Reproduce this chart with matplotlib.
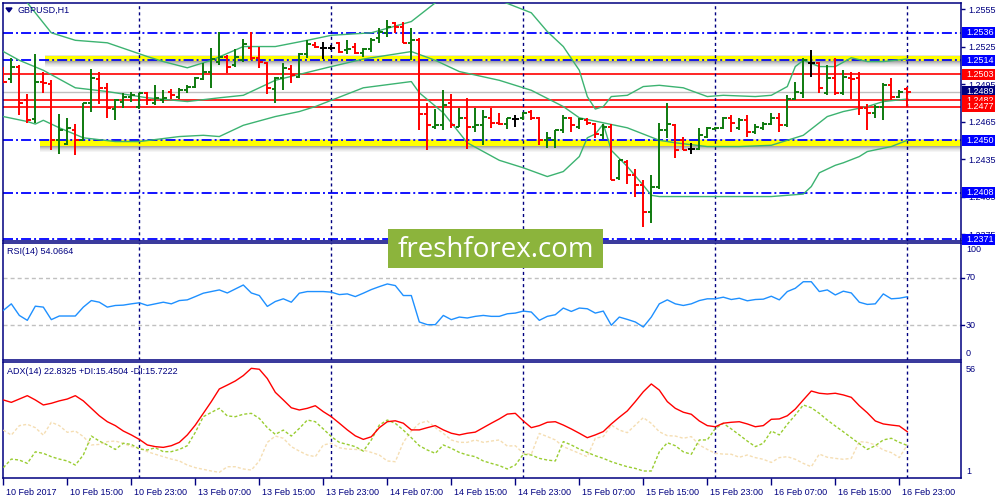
import matplotlib
import matplotlib.pyplot as plt
import matplotlib.transforms as mtransforms
from matplotlib.collections import LineCollection
from matplotlib.patches import Rectangle, Polygon

plt.rcParams['font.family'] = ['Liberation Sans', 'DejaVu Sans']
plt.rcParams['lines.scale_dashes'] = False

# GBPUSD H1, bar 0 = 10 Feb 2017 07:00 (one bar per hour, weekend skipped)
opens = [1.2505, 1.2499, 1.2509, 1.2482, 1.2467, 1.2497, 1.2495, 1.2450, 1.2447, 1.2458,
         1.2450, 1.2480, 1.2499, 1.2492, 1.2475, 1.2481, 1.2485, 1.2477, 1.2488, 1.2480,
         1.2482, 1.2489, 1.2485, 1.2490, 1.2493, 1.2499, 1.2505, 1.2513, 1.2517, 1.2510,
         1.2514, 1.2524, 1.2516, 1.2512, 1.2491, 1.2500, 1.2507, 1.2501, 1.2519, 1.2526,
         1.2524, 1.2524, 1.2528, 1.2522, 1.2525, 1.2520, 1.2523, 1.2532, 1.2536, 1.2544,
         1.2541, 1.2528, 1.2530, 1.2471, 1.2461, 1.2462, 1.2480, 1.2461, 1.2468, 1.2461,
         1.2462, 1.2468, 1.2464, 1.2463, 1.2467, 1.2468, 1.2473, 1.2468, 1.2450, 1.2450,
         1.2458, 1.2468, 1.2461, 1.2466, 1.2463, 1.2454, 1.2461, 1.2420, 1.2433, 1.2422,
         1.2414, 1.2393, 1.2413, 1.2458, 1.2462, 1.2450, 1.2443, 1.2443, 1.2453, 1.2459,
         1.2460, 1.2468, 1.2460, 1.2466, 1.2457, 1.2460, 1.2463, 1.2468, 1.2462, 1.2483,
         1.2488, 1.2512, 1.2512, 1.2488, 1.2500, 1.2488, 1.2500, 1.2500, 1.2476, 1.2472,
         1.2477, 1.2494, 1.2485, 1.2491]
highs = [1.2509, 1.2516, 1.2510, 1.2487, 1.2519, 1.2505, 1.2498, 1.2471, 1.2468, 1.2463,
         1.2480, 1.2507, 1.2505, 1.2496, 1.2483, 1.2488, 1.2489, 1.2488, 1.2489, 1.2494,
         1.2490, 1.2491, 1.2492, 1.2494, 1.2501, 1.2512, 1.2524, 1.2537, 1.2518, 1.2523,
         1.2531, 1.2537, 1.2525, 1.2513, 1.2501, 1.2512, 1.2510, 1.2520, 1.2530, 1.2529,
         1.2529, 1.2526, 1.2529, 1.2530, 1.2528, 1.2524, 1.2532, 1.2540, 1.2546, 1.2545,
         1.2545, 1.2540, 1.2532, 1.2480, 1.2475, 1.2490, 1.2487, 1.2476, 1.2484, 1.2476,
         1.2474, 1.2476, 1.2472, 1.2468, 1.2470, 1.2473, 1.2474, 1.2469, 1.2457, 1.2458,
         1.2470, 1.2469, 1.2468, 1.2468, 1.2464, 1.2463, 1.2463, 1.2434, 1.2434, 1.2427,
         1.2418, 1.2422, 1.2464, 1.2480, 1.2463, 1.2453, 1.2448, 1.2460, 1.2461, 1.2461,
         1.2469, 1.2470, 1.2468, 1.2470, 1.2463, 1.2465, 1.2472, 1.2472, 1.2486, 1.2497,
         1.2516, 1.2522, 1.2513, 1.2510, 1.2516, 1.2506, 1.2505, 1.2505, 1.2479, 1.2478,
         1.2496, 1.2500, 1.2490, 1.2493]
lows = [1.2496, 1.2496, 1.2470, 1.2464, 1.2464, 1.2488, 1.2442, 1.2439, 1.2446, 1.2438,
        1.2450, 1.2473, 1.2479, 1.2468, 1.2466, 1.2476, 1.2481, 1.2475, 1.2478, 1.2478,
        1.2480, 1.2483, 1.2483, 1.2488, 1.2492, 1.2498, 1.2492, 1.2510, 1.2504, 1.2509,
        1.2513, 1.2514, 1.2508, 1.2487, 1.2480, 1.2490, 1.2496, 1.2500, 1.2516, 1.2524,
        1.2515, 1.2522, 1.2520, 1.2519, 1.2519, 1.2517, 1.2521, 1.2528, 1.2533, 1.2536,
        1.2528, 1.2514, 1.2458, 1.2442, 1.2459, 1.2458, 1.2460, 1.2461, 1.2443, 1.2457,
        1.2446, 1.2460, 1.2462, 1.2459, 1.2461, 1.2466, 1.2466, 1.2446, 1.2444, 1.2444,
        1.2456, 1.2457, 1.2459, 1.2462, 1.2452, 1.2451, 1.2418, 1.2418, 1.2415, 1.2405,
        1.2381, 1.2384, 1.2411, 1.2452, 1.2436, 1.2442, 1.2439, 1.2442, 1.2452, 1.2458,
        1.2459, 1.2457, 1.2458, 1.2453, 1.2455, 1.2458, 1.2462, 1.2457, 1.2461, 1.2482,
        1.2484, 1.2501, 1.2488, 1.2486, 1.2486, 1.2486, 1.2483, 1.2470, 1.2458, 1.2468,
        1.2466, 1.2482, 1.2484, 1.2477]
closes = [1.2497, 1.2509, 1.2480, 1.2466, 1.2497, 1.2496, 1.2450, 1.2458, 1.2460, 1.2450,
          1.2480, 1.2500, 1.2492, 1.2476, 1.2482, 1.2485, 1.2486, 1.2488, 1.2482, 1.2484,
          1.2484, 1.2486, 1.2490, 1.2493, 1.2500, 1.2505, 1.2515, 1.2517, 1.2509, 1.2517,
          1.2527, 1.2516, 1.2513, 1.2492, 1.2500, 1.2508, 1.2502, 1.2519, 1.2527, 1.2525,
          1.2524, 1.2524, 1.2521, 1.2523, 1.2520, 1.2523, 1.2530, 1.2537, 1.2541, 1.2541,
          1.2528, 1.2530, 1.2471, 1.2462, 1.2462, 1.2478, 1.2462, 1.2468, 1.2461, 1.2462,
          1.2469, 1.2464, 1.2463, 1.2468, 1.2467, 1.2472, 1.2468, 1.2450, 1.2452, 1.2458,
          1.2468, 1.2462, 1.2467, 1.2464, 1.2455, 1.2461, 1.2418, 1.2434, 1.2422, 1.2414,
          1.2393, 1.2413, 1.2458, 1.2463, 1.2442, 1.2442, 1.2443, 1.2454, 1.2460, 1.2460,
          1.2468, 1.2464, 1.2466, 1.2457, 1.2461, 1.2463, 1.2468, 1.2462, 1.2483, 1.2489,
          1.2514, 1.2512, 1.2492, 1.2500, 1.2488, 1.2501, 1.2499, 1.2476, 1.2472, 1.2477,
          1.2494, 1.2485, 1.2489, 1.2489]

# Bollinger bands at these bars
bb_up_bar = [0, 2, 3, 6, 9, 13, 18, 20, 23, 26, 30, 34, 38, 41, 46, 51, 54, 58, 62, 66,
             68, 70, 72, 73, 74, 75, 76, 78, 80, 82, 85, 88, 90, 94, 96, 98, 99, 100, 102,
             104, 106, 108, 110, 113]
bb_up = [1.2574, 1.2565, 1.2560, 1.2536, 1.2530, 1.2528, 1.2517, 1.2513, 1.2508, 1.2514,
         1.2525, 1.2525, 1.2530, 1.2534, 1.2536, 1.2545, 1.2560, 1.2578, 1.2562, 1.2552,
         1.2537, 1.2525, 1.2506, 1.2485, 1.2475, 1.2477, 1.2485, 1.2486, 1.2493, 1.2494,
         1.2492, 1.2485, 1.2486, 1.2485, 1.2486, 1.2493, 1.2509, 1.2514, 1.2509,
         1.2509, 1.2516, 1.2513, 1.2513, 1.2515]
bb_mid_bar = [0, 2, 5, 9, 13, 18, 23, 27, 30, 34, 41, 45, 51, 54, 57, 62, 66, 70, 72, 75,
              78, 82, 84, 88, 92, 96, 98, 100, 103, 105, 108, 110, 113]
bb_mid = [1.2521, 1.2514, 1.2506, 1.2492, 1.2489, 1.2484, 1.2481, 1.2484, 1.2486, 1.2498,
          1.2509, 1.2515, 1.2521, 1.2514, 1.2505, 1.2498, 1.2490, 1.2477, 1.2468, 1.2464,
          1.2460, 1.2450, 1.2448, 1.2445, 1.2445, 1.2446, 1.2450, 1.2454, 1.2469, 1.2473,
          1.2477, 1.2481, 1.2483]
bb_low_bar = [0, 3, 4, 5, 7, 10, 14, 17, 22, 25, 27, 30, 34, 37, 39, 41, 45, 51, 52, 55,
              58, 62, 65, 68, 70, 72, 73, 74, 75, 76, 78, 80, 81, 82, 86, 90, 96, 100, 101,
              102, 104, 105, 107, 108, 111, 113]
bb_low = [1.2469, 1.2465, 1.2463, 1.2466, 1.2460, 1.2452, 1.2449, 1.2449, 1.2453, 1.2454,
          1.2453, 1.2462, 1.2469, 1.2473, 1.2477, 1.2482, 1.2492, 1.2497, 1.2488, 1.2472,
          1.2448, 1.2434, 1.2428, 1.2421, 1.2425, 1.2437, 1.2452, 1.2455, 1.2463, 1.2442,
          1.2429, 1.2414, 1.2406, 1.2405, 1.2405, 1.2405, 1.2405, 1.2407, 1.2413,
          1.2424, 1.2430, 1.2432, 1.2437, 1.2441, 1.2445, 1.2450]

rsi = [42.4, 48.0, 38.1, 33.9, 46.0, 45.2, 34.5, 37.6, 37.6, 37.6,
       45.2, 50.8, 49.4, 45.2, 46.6, 46.9, 48.0, 48.9, 46.6, 48.0,
       49.4, 48.0, 50.8, 51.4, 54.2, 57.1, 58.5, 59.9, 57.3, 60.7,
       64.1, 57.3, 55.1, 45.8, 50.0, 52.3, 49.4, 57.1, 58.5, 58.5,
       58.5, 58.0, 55.9, 56.5, 54.2, 57.1, 60.2, 62.7, 65.0, 63.6,
       55.1, 55.1, 32.5, 30.2, 30.2, 38.1, 34.5, 36.7, 35.9, 37.3,
       38.1, 37.3, 37.3, 39.5, 40.1, 41.8, 41.0, 33.9, 37.3, 38.7,
       44.4, 41.5, 44.4, 43.8, 40.1, 41.8, 29.7, 36.7, 34.7, 32.5,
       28.2, 36.7, 48.0, 51.4, 48.0, 46.6, 48.0, 50.8, 52.3, 52.3,
       53.7, 51.7, 52.8, 50.6, 51.7, 52.0, 54.5, 51.4, 58.5, 61.3,
       66.9, 66.9, 58.5, 59.9, 55.6, 58.8, 57.3, 49.4, 47.5, 48.0,
       56.5, 52.3, 52.8, 54.07]

adx = [39.9, 38.6, 40.4, 42.2, 39.9, 37.2, 38.1, 39.4, 40.4, 42.2,
       39.4, 35.4, 31.4, 28.2, 26.1, 23.2, 21.1, 18.7, 15.7, 14.8,
       14.4, 15.3, 17.1, 21.1, 26.4, 32.7, 39.0, 45.8, 47.9, 50.1,
       53.0, 56.9, 56.4, 51.4, 44.0, 39.9, 35.7, 34.5, 35.4, 36.8,
       33.6, 30.9, 27.4, 23.8, 20.6, 18.7, 20.1, 25.0, 28.2, 28.7,
       27.4, 23.8, 23.8, 25.0, 26.1, 23.8, 22.0, 21.1, 22.0, 22.6,
       25.0, 27.4, 29.7, 32.3, 32.7, 28.6, 25.0, 26.1, 27.9, 28.2,
       26.4, 24.3, 22.0, 19.6, 21.1, 22.9, 27.0, 30.6, 34.0, 39.0,
       44.3, 48.5, 45.2, 39.0, 35.4, 33.3, 32.2, 28.6, 26.1, 25.5,
       27.4, 27.9, 28.2, 27.0, 25.5, 26.1, 29.5, 29.7, 31.4, 35.0,
       39.9, 44.7, 43.5, 43.1, 43.5, 42.6, 41.3, 36.8, 33.0, 28.6,
       27.0, 26.4, 25.9, 22.83]
plus_di = [3.5, 8.1, 7.6, 5.8, 12.0, 11.2, 9.4, 8.1, 7.1, 4.9,
           10.3, 20.5, 17.8, 15.7, 13.3, 16.6, 16.0, 13.5, 13.0, 14.2,
           12.1, 12.1, 13.3, 15.3, 22.5, 30.9, 33.2, 35.4, 31.3, 30.9,
           32.2, 32.7, 30.0, 25.0, 21.4, 23.7, 20.5, 24.6, 29.1, 28.2,
           24.3, 20.2, 17.1, 16.0, 14.8, 12.4, 18.4, 26.4, 29.1, 27.3,
           23.7, 19.6, 15.3, 13.0, 11.2, 15.7, 13.9, 11.7, 10.3, 9.4,
           7.1, 5.8, 4.6, 2.8, 4.9, 10.7, 10.3, 8.5, 7.6, 7.1,
           17.5, 15.7, 13.5, 11.7, 9.9, 8.5, 6.7, 5.3, 4.0, 3.1,
           1.7, 1.7, 12.0, 16.9, 15.3, 12.0, 10.7, 18.4, 18.4, 24.6,
           27.3, 24.3, 21.1, 17.8, 14.8, 16.6, 23.2, 21.1, 26.8, 31.8,
           37.2, 35.7, 32.7, 29.1, 25.9, 22.8, 19.6, 16.4, 13.3, 15.3,
           18.4, 19.3, 17.1, 15.45]
minus_di = [23.7, 21.0, 26.1, 26.8, 25.0, 21.0, 27.9, 26.1, 22.5, 23.2,
            20.2, 15.7, 16.0, 17.5, 17.8, 16.6, 14.8, 14.2, 12.1, 10.7,
            9.4, 8.1, 7.1, 4.9, 3.5, 2.6, 1.7, 1.0, 4.0, 4.0,
            2.8, 2.2, 7.1, 17.1, 20.5, 19.3, 14.8, 12.4, 10.3, 9.4,
            15.7, 16.6, 14.2, 13.5, 13.3, 13.0, 11.7, 10.3, 7.1, 6.7,
            17.1, 23.2, 27.3, 28.6, 25.0, 21.9, 18.4, 17.1, 17.1, 18.4,
            17.1, 17.8, 18.4, 15.1, 15.3, 11.2, 10.7, 21.9, 20.2, 18.4,
            14.8, 13.0, 11.2, 9.4, 19.3, 20.2, 26.4, 23.7, 22.3, 26.4,
            30.4, 27.3, 22.8, 20.7, 20.5, 19.3, 20.2, 15.7, 13.3, 11.2,
            10.8, 10.7, 9.1, 10.3, 8.9, 8.0, 6.3, 8.9, 9.4, 8.0,
            5.8, 4.0, 10.8, 9.1, 8.5, 8.0, 8.5, 17.5, 17.1, 15.7,
            13.0, 11.6, 8.9, 15.72]

# horizontal levels drawn on the chart
blue_levels = [1.2536, 1.2514, 1.2450, 1.2408, 1.2371]
red_levels = [1.2503, 1.2482, 1.2477]
bid_price = 1.2489
zones = [(1.25174, 1.25136, 5.2), (1.24502, 1.24454, 4.6)]  # (top, bottom, first bar)
price_ticks = [1.2555, 1.2525, 1.2495, 1.2465, 1.2435, 1.2405, 1.2375]
day_breaks = [17, 41, 65, 89, 113]
time_bars = [0, 8, 16, 24, 32, 40, 48, 56, 64, 72, 80, 88, 96, 104, 112]
time_labels = ['10 Feb 2017', '10 Feb 15:00', '10 Feb 23:00', '13 Feb 07:00', '13 Feb 15:00',
               '13 Feb 23:00', '14 Feb 07:00', '14 Feb 15:00', '14 Feb 23:00', '15 Feb 07:00',
               '15 Feb 15:00', '15 Feb 23:00', '16 Feb 07:00', '16 Feb 15:00', '16 Feb 23:00']

NAVY = '#000080'
W, H = 1000, 500
FS = 6.5


def px_rect(x0, y0, x1, y1):
    return [x0 / W, 1 - y1 / H, (x1 - x0) / W, (y1 - y0) / H]


fig = plt.figure(figsize=(10, 5), dpi=100)
fig.patch.set_facecolor('white')
ax = fig.add_axes(px_rect(3, 3, 961, 241))
ax_rsi = fig.add_axes(px_rect(3, 243, 961, 360))
ax_adx = fig.add_axes(px_rect(3, 362, 961, 478))

xmax = (961 - 3.3) / 8
for a in (ax, ax_rsi, ax_adx):
    a.set_xlim(-0.04, xmax)
    for s in a.spines.values():
        s.set_color(NAVY)
        s.set_linewidth(1.1)
    a.set_xticks([])
    a.set_yticks([])
    for b in day_breaks:
        a.axvline(b, color=NAVY, lw=1, linestyle=(0, (2.2, 2.2)), zorder=3)

ax.set_ylim(1.236944, 1.255984)
ax_rsi.set_ylim(0, 100)
ax_adx.set_ylim(-2.06, 60.3)

# ---- main chart
xr = [zones[0][2] - 0.5, xmax]
px = 1 / 12500  # price per pixel
for top, bot, start in zones:
    xs = [start, xmax]
    ax.fill_between(xs, bot, top, color='#ffff00', lw=0, zorder=1)
    shades = [0.55, 0.42, 0.3, 0.2, 0.12, 0.06]
    for k, al in enumerate(shades):
        ax.fill_between(xs, bot - (k + 1) * px, bot - k * px, color='#606060',
                        alpha=al, lw=0, zorder=1)
    ax.fill_between(xs, top, top + px, color='#909090', alpha=0.25, lw=0, zorder=1)

ax.axhline(bid_price, color='#c0c0c0', lw=1, zorder=2)
for lv in red_levels:
    ax.axhline(lv, color='#ff0000', lw=1.2, zorder=2)
for lv in blue_levels:
    ax.axhline(lv, color='#0000ff', lw=1.3, linestyle=(0, (7.2, 2.2, 1.4, 2.2)), zorder=2.5)

bb_col = '#3cb371'
ax.plot(bb_up_bar, bb_up, color=bb_col, lw=1, zorder=4)
ax.plot(bb_mid_bar, bb_mid, color=bb_col, lw=1, zorder=4)
ax.plot(bb_low_bar, bb_low, color=bb_col, lw=1, zorder=4)

segs, cols = [], []
for i in range(len(opens)):
    o, h, l, c = opens[i], highs[i], lows[i], closes[i]
    col = '#0e7a0e' if c > o else ('#ff0000' if c < o else '#000000')
    segs += [[(i, l), (i, h)], [(i - 0.4, o), (i, o)], [(i, c), (i + 0.4, c)]]
    cols += [col] * 3
ax.add_collection(LineCollection(segs, colors=cols, linewidths=1.4, zorder=5))

ax.yaxis.tick_right()
ax.set_yticks(price_ticks)
ax.set_yticklabels([f'{p:.4f}' for p in price_ticks])
ax.tick_params(axis='y', length=3, width=1, color=NAVY, labelcolor=NAVY,
               labelsize=FS, pad=2)

ytr = ax.get_yaxis_transform()
tags = [(1.2536, '#0000ff'), (1.2514, '#0000ff'), (1.2503, '#ff0000'),
        (1.2450, '#0000ff'), (1.2408, '#0000ff'), (1.2371, '#0000ff'),
        (1.2489, '#000080'), (1.2482, '#ff0000'), (1.2477, '#ff0000')]
bx0 = (962 - 3) / 958
bw = 33 / 958
tx = (966 - 3) / 958
for z, (p, c) in enumerate(tags):
    ax.add_patch(Rectangle((bx0, p - 5.5 * px), bw, 11 * px, transform=ytr,
                           facecolor=c, edgecolor='none', clip_on=False, zorder=20 + z))
    ax.text(tx, p, f'{p:.4f}', transform=ytr, color='white', fontsize=FS,
            va='center', ha='left', clip_on=False, zorder=20 + z)

fig.add_artist(Polygon([[6 / W, 1 - 8 / H], [12 / W, 1 - 8 / H], [9 / W, 1 - 12 / H]],
                       closed=True, color=NAVY, transform=fig.transFigure))
fig.text(18 / W, 1 - 10 / H, 'GBPUSD,H1', color=NAVY, fontsize=FS, va='center', ha='left')

# ---- RSI
ax_rsi.axhline(70, color='#c0c0c0', lw=1, linestyle=(0, (2.9, 2.2)), zorder=1)
ax_rsi.axhline(30, color='#c0c0c0', lw=1, linestyle=(0, (2.9, 2.2)), zorder=1)
ax_rsi.plot(range(len(rsi)), rsi, color='#1e90ff', lw=1, zorder=4)
fig.text(7 / W, 1 - 252 / H, 'RSI(14) 54.0664', color=NAVY, fontsize=FS, va='center')
for lab, yy in [('100', 249), ('70', 278), ('30', 325), ('0', 353)]:
    fig.text(966 / W, 1 - yy / H, lab, color=NAVY, fontsize=FS, va='center')
for yy in (278, 325):
    fig.add_artist(plt.Line2D([961 / W, 964 / W], [1 - yy / H, 1 - yy / H], color=NAVY, lw=1))

# ---- ADX
bars = range(len(adx))
ax_adx.plot(bars, minus_di, color='#f5deb3', lw=1, linestyle=(0, (2.2, 1.5)), zorder=3)
ax_adx.plot(bars, plus_di, color='#9acd32', lw=1, linestyle=(0, (2.2, 1.5)), zorder=3)
ax_adx.plot(bars, adx, color='#ff0000', lw=1, zorder=4)
fig.text(7 / W, 1 - 371 / H, 'ADX(14) 22.8325 +DI:15.4504 -DI:15.7222', color=NAVY,
         fontsize=FS, va='center')
for lab, yy in [('56', 370), ('1', 472)]:
    fig.text(966 / W, 1 - yy / H, lab, color=NAVY, fontsize=FS, va='center')

ax_adx.set_xticks(time_bars)
ax_adx.set_xticklabels(time_labels)
ax_adx.tick_params(axis='x', length=5, width=1, color=NAVY, labelcolor=NAVY,
                   labelsize=FS, pad=2)
shift = mtransforms.ScaledTranslation(2 / 72, 0, fig.dpi_scale_trans)
for lbl in ax_adx.get_xticklabels():
    lbl.set_horizontalalignment('left')
    lbl.set_transform(lbl.get_transform() + shift)

# ---- watermark
logo = fig.add_axes(px_rect(388, 229, 603, 268), zorder=50)
logo.set_facecolor('#8cb43c')
logo.set_xticks([])
logo.set_yticks([])
for s in logo.spines.values():
    s.set_visible(False)
logo.text(0.5, 0.47, 'freshforex.com', color='white', fontsize=20,
          family=['Open Sans', 'DejaVu Sans'], ha='center', va='center',
          transform=logo.transAxes)

fig.savefig('out.png', dpi=100)
